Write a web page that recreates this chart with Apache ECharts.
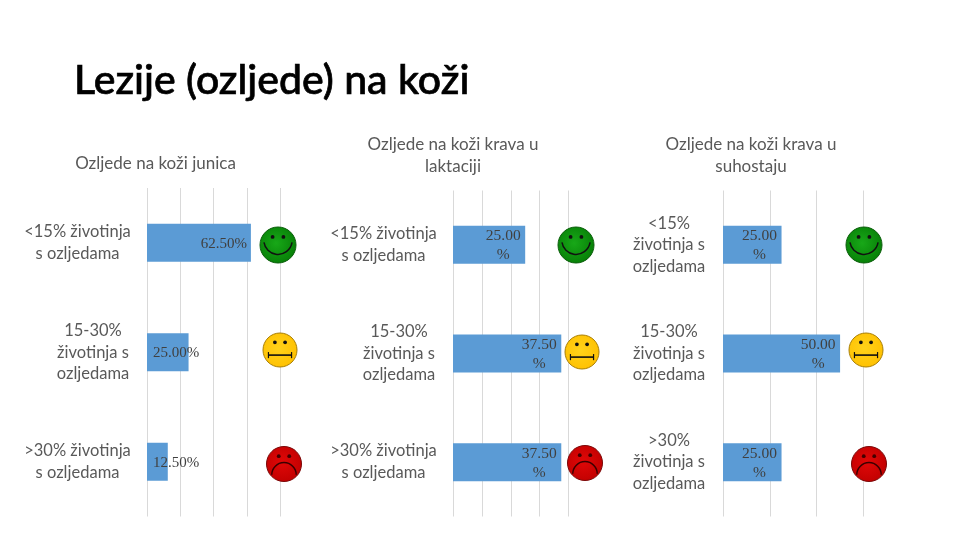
<!DOCTYPE html>
<html><head><meta charset="utf-8">
<style>html,body{margin:0;padding:0;background:#fff}#c{width:960px;height:540px}</style>
<script src="https://cdn.jsdelivr.net/npm/echarts@6/dist/echarts.min.js"></script>
</head><body><div id="c"></div>
<script>
const mainTitle = 'Lezije (ozljede) na koži';
const chartTitles = ['Ozljede na koži junica', 'Ozljede na koži krava u\nlaktaciji', 'Ozljede na koži krava u\nsuhostaju'];
const categories1 = ['<15% životinja\ns ozljedama', '15-30%\nživotinja s\nozljedama', '>30% životinja\ns ozljedama'];
const categories2 = ['<15% životinja\ns ozljedama', '15-30%\nživotinja s\nozljedama', '>30% životinja\ns ozljedama'];
const categories3 = ['<15%\nživotinja s\nozljedama', '15-30%\nživotinja s\nozljedama', '>30%\nživotinja s\nozljedama'];
const values1 = [62.5, 25, 12.5];
const values2 = [25, 37.5, 37.5];
const values3 = [25, 50, 25];
const axisMax = [80, 40, 60];
const axisStep = [20, 10, 20];

const GREY = '#595959', SANS = 'Lato', SERIF = '"Liberation Serif"';
const layouts = [
  {left:147, right:280,   top:188,   bottom:516.5, titleX:155.5, titleY:153},
  {left:453, right:568.5, top:190.5, bottom:516.5, titleX:453, titleY:134},
  {left:723, right:863.5, top:190.5, bottom:516.5, titleX:751, titleY:134}
];
const cats = [categories1, categories2, categories3];
const vals = [values1, values2, values3];

const option = {
  animation:false, backgroundColor:'#fff',
  title:[{text:mainTitle,left:74,top:60,padding:0,textStyle:{fontFamily:SANS,fontSize:41,fontWeight:500,color:'#000',textBorderColor:'#000',textBorderWidth:0.7}}]
    .concat(chartTitles.map((t,i)=>({text:t,left:layouts[i].titleX,top:layouts[i].titleY,padding:0,textAlign:'center',
      textStyle:{fontFamily:SANS,fontSize:17,fontWeight:'normal',color:GREY,lineHeight:22}}))),
  grid:[],xAxis:[],yAxis:[],series:[],graphic:[]
};

function catLabel(v){
  const wide = v.split('\n')[0].length > 8;
  return v.split('\n').map(l=>'{'+(wide?'w':'n')+'|'+l+'}').join('\n');
}
layouts.forEach((L,i)=>{
  option.grid.push({left:L.left,top:L.top,width:L.right-L.left,height:L.bottom-L.top});
  option.xAxis.push({type:'value',gridIndex:i,min:0,max:axisMax[i],interval:axisStep[i],
    axisLabel:{show:false},axisLine:{show:false},axisTick:{show:false},
    splitLine:{show:true,lineStyle:{color:'#D9D9D9',width:1}}});
  option.yAxis.push({type:'category',gridIndex:i,inverse:true,data:cats[i],
    axisLine:{show:false},axisTick:{show:false},
    axisLabel:{margin:16,formatter:catLabel,color:GREY,fontFamily:SANS,fontSize:16.5,
      rich:{w:{width:107,align:'center',lineHeight:22,fontFamily:SANS,fontSize:16.5,color:GREY},
            n:{width:76,align:'center',lineHeight:21.5,fontFamily:SANS,fontSize:16.5,color:GREY}}}});
  option.series.push({type:'bar',xAxisIndex:i,yAxisIndex:i,barWidth:38,
    itemStyle:{color:'#5B9BD5'},
    data:vals[i].map((v,j)=>{
      if(i===0){
        return {value:v,label:{show:true,position:j===0?'insideRight':'insideLeft',distance:j===0?4:6,offset:[0,1],
          fontFamily:SERIF,fontSize:15,color:'#404040',
          formatter:p=>p.value.toFixed(2)+'%'}};
      }
      return {value:v,label:{show:true,position:'insideRight',distance:4,offset:[0,1],
        formatter:p=>'{v|'+p.value.toFixed(2)+'}\n{v|%}',
        rich:{v:{fontFamily:SERIF,fontSize:15.5,color:'#404040',width:36,align:'center',lineHeight:19}}}};
    })});
});

function face(cx,cy,r,kind){
  const ink='#111';
  const fill={good:['#18a818','#067d06','#0b5e0b'],mid:['#ffd21a','#ffc000','#a97f06'],bad:['#e00808','#c00000','#7a0808']}[kind];
  const ch=[
    {type:'circle',shape:{cx:0,cy:0,r:r},style:{fill:{type:'radial',x:.45,y:.45,r:.6,colorStops:[{offset:0,color:fill[0]},{offset:1,color:fill[1]}]},stroke:fill[2],lineWidth:1}},
    {type:'circle',shape:{cx:-r*.3,cy:-r*.45,r:1.9},style:{fill:kind==='bad'?'#400':ink}},
    {type:'circle',shape:{cx:r*.3,cy:-r*.45,r:1.9},style:{fill:kind==='bad'?'#400':ink}}
  ];
  if(kind==='good'){
    ch.push({type:'arc',shape:{cx:0,cy:-r*.27,r:r*.79,startAngle:Math.PI*.05,endAngle:Math.PI*.95,clockwise:true},style:{fill:null,stroke:ink,lineWidth:1.5}});
  }else if(kind==='mid'){
    ch.push({type:'line',shape:{x1:-r*.68,y1:r*.3,x2:r*.68,y2:r*.3},style:{stroke:ink,lineWidth:1.6}});
    ch.push({type:'line',shape:{x1:-r*.68,y1:r*.12,x2:-r*.68,y2:r*.48},style:{stroke:ink,lineWidth:1.2}});
    ch.push({type:'line',shape:{x1:r*.68,y1:r*.12,x2:r*.68,y2:r*.48},style:{stroke:ink,lineWidth:1.2}});
  }else{
    ch.push({type:'arc',shape:{cx:0,cy:r*.62,r:r*.7,startAngle:Math.PI,endAngle:Math.PI*2,clockwise:true},style:{fill:null,stroke:'#3a0000',lineWidth:1.5}});
  }
  ch.forEach((c,k)=>{c.z=50;c.z2=k;});
  return {type:'group',x:cx,y:cy,silent:true,children:ch};
}
[[278,245,18,'good'],[280,350,17,'mid'],[284,464,17.5,'bad'],
 [576,245,18,'good'],[582,352,17,'mid'],[585,463,17.5,'bad'],
 [864,245,18,'good'],[866,350,17,'mid'],[869,464,17.5,'bad']]
 .forEach(f=>option.graphic.push(face(f[0],f[1],f[2],f[3])));

echarts.init(document.getElementById('c'),null,{renderer:'canvas'}).setOption(option);
</script></body></html>
